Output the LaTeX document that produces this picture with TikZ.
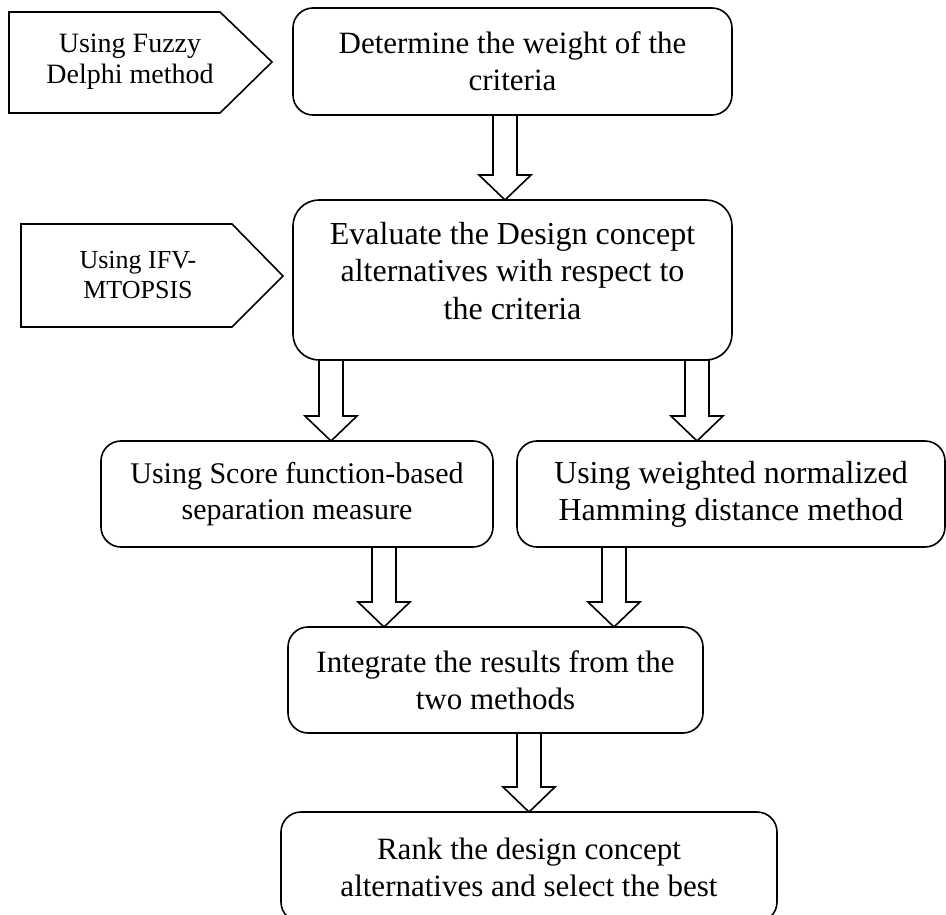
\documentclass[tikz,border=0pt]{standalone}
\usepackage{fontspec}
\setmainfont{Liberation Serif}
\usetikzlibrary{calc}
\tikzset{
  box/.style={draw, line width=1.6pt, rounded corners=20pt, align=center,
    font=\fontsize{31}{37}\selectfont, inner sep=0pt, outer sep=0pt},
  pent/.style={draw, line width=1.6pt, line join=miter},
  ptext/.style={align=center, inner sep=0pt},
  blk/.style={draw, line width=1.6pt, fill=white, line join=miter},
}
\newcommand{\blkarrow}[3]{%
  \draw[blk] let \p1=(#2.south), \p2=(#3.north) in
    ({#1pt-12pt},\y1) -- ({#1pt+12pt},\y1) -- ({#1pt+12pt},{\y2+25pt})
    -- ({#1pt+26pt},{\y2+25pt}) -- ({#1pt},\y2) -- ({#1pt-26pt},{\y2+25pt})
    -- ({#1pt-12pt},{\y2+25pt}) -- cycle;}
\begin{document}
\begin{tikzpicture}[x=1pt,y=-1pt]
\useasboundingbox (0,0) rectangle (946,915);
\clip (0,0) rectangle (946,915);

% side pentagons
\draw[pent] (9,12) -- (220,12) -- (272,62) -- (220,113) -- (9,113) -- cycle;
\node[ptext, font=\fontsize{28}{31}\selectfont] (p1) at (130,62) {Using Fuzzy\\Delphi method};
\draw[pent] (21,224) -- (232,224) -- (283,276) -- (232,327) -- (21,327) -- cycle;
\node[ptext, font=\fontsize{26}{30}\selectfont] (p2) at (138,275) {Using IFV-\\MTOPSIS};

% main boxes
\node[box, minimum width=439pt, minimum height=107pt] (b1) at (512.5,61.5)
  {Determine the weight of the\\criteria};
\node[box, rounded corners=26pt, minimum width=439pt, minimum height=160pt,
      font=\fontsize{32}{37.5}\selectfont] (b2) at (512.5,280)
  {Evaluate the Design concept\\alternatives with respect to\\the criteria\\[-19pt]~};
\node[box, minimum width=392pt, minimum height=106pt,
      font=\fontsize{30}{36.5}\selectfont] (b3) at (297,494)
  {Using Score function-based\\separation measure};
\node[box, minimum width=428pt, minimum height=106pt,
      font=\fontsize{32}{37}\selectfont] (b4) at (731,494)
  {Using weighted normalized\\Hamming distance method};
\node[box, minimum width=415pt, minimum height=106pt] (b5) at (495.5,680)
  {Integrate the results from the\\two methods};
\node[box, minimum width=496pt, minimum height=110pt] (b6) at (529,867)
  {Rank the design concept\\alternatives and select the best};

% block arrows
\blkarrow{505}{b1}{b2}
\blkarrow{331}{b2}{b3}
\blkarrow{697}{b2}{b4}
\blkarrow{384}{b3}{b5}
\blkarrow{614}{b4}{b5}
\blkarrow{529}{b5}{b6}
\end{tikzpicture}
\end{document}
